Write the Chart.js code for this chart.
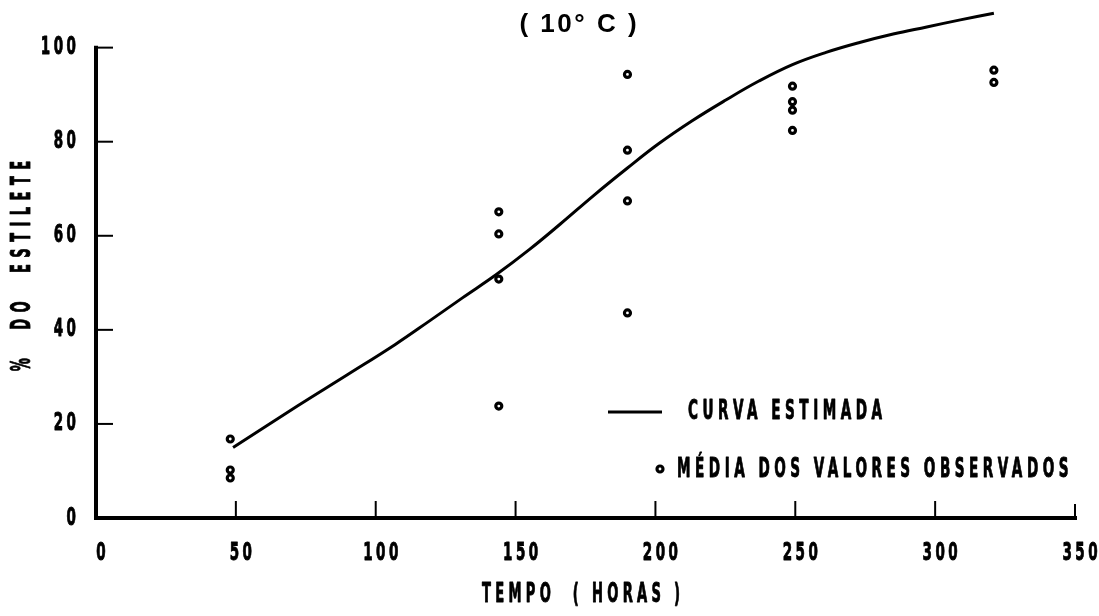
<!DOCTYPE html>
<html>
<head>
<meta charset="utf-8">
<script src="https://cdn.jsdelivr.net/npm/chart.js@4/dist/chart.umd.min.js"></script>
<style>
  html, body { margin: 0; padding: 0; background: #fff; }
  canvas { display: block; }
</style>
</head>
<body>
<canvas id="chart" width="1099" height="616"></canvas>
<script>
// Texts
const chartTitle = '( 10° C )';
const xAxisTitle = 'TEMPO  ( HORAS )';
const yAxisTitle = '%  DO  ESTILETE';
const curveLabel = 'CURVA ESTIMADA';
const pointsLabel = 'MÉDIA DOS VALORES OBSERVADOS';

// Axis ticks
const xTickValues = [0, 50, 100, 150, 200, 250, 300, 350];
const yTickValues = [0, 20, 40, 60, 80, 100];

// Estimated curve (hours, % of stylet)
const curveHours   = [49, 72, 90, 107, 119, 131, 143, 155, 166, 178, 190, 201, 213, 225, 237, 249, 261, 273, 285, 297, 309, 321];
const curvePercent = [15.0, 23.8, 30.5, 36.9, 41.8, 46.8, 51.7, 57.1, 62.5, 68.6, 74.4, 79.5, 84.4, 88.8, 92.9, 96.4, 99.0, 101.1, 102.9, 104.4, 105.9, 107.3];

// Observed means
const obsHours   = [48, 48, 48, 144, 144, 144, 144, 190, 190, 190, 190, 249, 249, 249, 249, 321, 321];
const obsPercent = [16.8, 10.2, 8.5, 65.1, 60.4, 50.8, 23.8, 94.3, 78.2, 67.4, 43.6, 91.8, 88.5, 86.7, 82.4, 95.2, 92.6];

const NARROW = "'DejaVu Sans Condensed', 'DejaVu Sans', sans-serif";
const INK = '#000';

const curveData = curveHours.map((h, i) => ({ x: h, y: curvePercent[i] }));
const obsData = obsHours.map((h, i) => ({ x: h, y: obsPercent[i] }));

// Tall, narrow, letter-spaced lettering
function drawText(ctx, text, x, y, o) {
  const sx = o.sx || 1;
  const sp = (o.spacing || 0) / sx;
  ctx.save();
  ctx.translate(x, y);
  if (o.rotate) ctx.rotate(o.rotate);
  ctx.scale(sx, 1);
  ctx.font = (o.weight || 'bold') + ' ' + o.size + 'px ' + (o.family || NARROW);
  ctx.letterSpacing = sp + 'px';
  ctx.fillStyle = INK;
  ctx.strokeStyle = INK;
  ctx.textBaseline = 'middle';
  ctx.textAlign = 'left';
  const w = ctx.measureText(text).width - sp;
  let dx = 0;
  if (o.align === 'center') dx = -w / 2;
  else if (o.align === 'right') dx = -w;
  ctx.fillText(text, dx, 0);
  if (o.stroke) {
    ctx.lineWidth = o.stroke;
    ctx.lineJoin = 'round';
    ctx.strokeText(text, dx, 0);
  }
  ctx.restore();
}

const TICK_FONT = { size: 25, sx: 0.6, spacing: 3.5, stroke: 0.9 };
const LABEL_FONT = { size: 27, sx: 0.56, spacing: 4.5, stroke: 0.9 };

// Axes, inward tick marks, tick labels, titles and legend
const framePlugin = {
  id: 'frame',
  beforeDraw(chart) {
    const ctx = chart.ctx;
    ctx.save();
    ctx.fillStyle = '#fff';
    ctx.fillRect(0, 0, chart.width, chart.height);
    ctx.restore();
  },
  afterDraw(chart) {
    const ctx = chart.ctx;
    const xs = chart.scales.x, ys = chart.scales.y;
    const x0 = xs.getPixelForValue(xTickValues[0]);
    const y0 = ys.getPixelForValue(yTickValues[0]);
    const yTop = ys.getPixelForValue(yTickValues[yTickValues.length - 1]);
    const xEnd = xs.getPixelForValue(xTickValues[xTickValues.length - 1]);

    ctx.save();
    ctx.strokeStyle = INK;
    ctx.lineCap = 'square';
    ctx.lineWidth = 4;
    ctx.beginPath();
    ctx.moveTo(x0, yTop);
    ctx.lineTo(x0, y0);
    ctx.lineTo(xEnd, y0);
    ctx.stroke();

    ctx.lineWidth = 2;
    ctx.lineCap = 'butt';
    yTickValues.slice(1).forEach(v => {
      const y = ys.getPixelForValue(v);
      ctx.beginPath();
      ctx.moveTo(x0, y);
      ctx.lineTo(x0 + 17, y);
      ctx.stroke();
    });
    xTickValues.slice(1).forEach((v, i, arr) => {
      const x = xs.getPixelForValue(v);
      const len = (i === arr.length - 1) ? 14 : 17;
      ctx.beginPath();
      ctx.moveTo(x, y0);
      ctx.lineTo(x, y0 - len);
      ctx.stroke();
    });
    ctx.restore();

    // Tick labels
    yTickValues.forEach(v => {
      drawText(ctx, String(v), x0 - 20, ys.getPixelForValue(v), Object.assign({ align: 'right' }, TICK_FONT));
    });
    xTickValues.forEach(v => {
      drawText(ctx, String(v), xs.getPixelForValue(v) + 5, y0 + 35, Object.assign({ align: 'center' }, TICK_FONT));
    });

    // Titles
    drawText(ctx, chartTitle, 578, 25, { size: 26, family: "'Liberation Sans', Arial, sans-serif", spacing: 2.5, align: 'center' });
    drawText(ctx, xAxisTitle, 581, 595, Object.assign({}, LABEL_FONT, { size: 26, spacing: 4.3, align: 'center' }));
    drawText(ctx, yAxisTitle, 23, 266, Object.assign({}, LABEL_FONT, { size: 26, spacing: 6.4, align: 'center', rotate: -Math.PI / 2 }));

    // Legend
    const lineDs = chart.data.datasets[0];
    const ptDs = chart.data.datasets[1];
    ctx.save();
    ctx.strokeStyle = lineDs.borderColor;
    ctx.lineWidth = lineDs.borderWidth;
    ctx.beginPath();
    ctx.moveTo(608, 412);
    ctx.lineTo(662, 412);
    ctx.stroke();
    ctx.beginPath();
    ctx.arc(660, 469, ptDs.pointRadius, 0, Math.PI * 2);
    ctx.fillStyle = ptDs.backgroundColor;
    ctx.fill();
    ctx.lineWidth = ptDs.borderWidth;
    ctx.strokeStyle = ptDs.borderColor;
    ctx.stroke();
    ctx.restore();
    drawText(ctx, lineDs.label, 688, 412, Object.assign({ align: 'left' }, LABEL_FONT));
    drawText(ctx, ptDs.label, 677, 470, Object.assign({ align: 'left' }, LABEL_FONT));
  }
};

new Chart(document.getElementById('chart'), {
  type: 'scatter',
  data: {
    datasets: [
      {
        label: curveLabel,
        data: curveData,
        showLine: true,
        borderColor: INK,
        borderWidth: 3,
        pointRadius: 0,
        fill: false,
        tension: 0.4,
        clip: false
      },
      {
        label: pointsLabel,
        data: obsData,
        showLine: false,
        pointStyle: 'circle',
        pointRadius: 3.0,
        borderWidth: 3.2,
        borderColor: INK,
        backgroundColor: '#fff',
        clip: false
      }
    ]
  },
  options: {
    responsive: false,
    animation: false,
    devicePixelRatio: 1,
    layout: { padding: { top: 10, right: 24, bottom: 0, left: 0 } },
    plugins: {
      legend: { display: false },
      title: { display: false },
      tooltip: { enabled: false }
    },
    scales: {
      x: {
        type: 'linear',
        min: 0,
        max: 350,
        afterBuildTicks(scale) { scale.ticks = xTickValues.map(v => ({ value: v })); },
        afterFit(scale) { scale.height = 98; },
        grid: { display: false, drawTicks: false },
        border: { display: false },
        ticks: { display: false }
      },
      y: {
        type: 'linear',
        min: 0,
        max: 108,
        afterBuildTicks(scale) { scale.ticks = yTickValues.map(v => ({ value: v })); },
        afterFit(scale) { scale.width = 96; },
        grid: { display: false, drawTicks: false },
        border: { display: false },
        ticks: { display: false }
      }
    }
  },
  plugins: [framePlugin]
});
</script>
</body>
</html>
